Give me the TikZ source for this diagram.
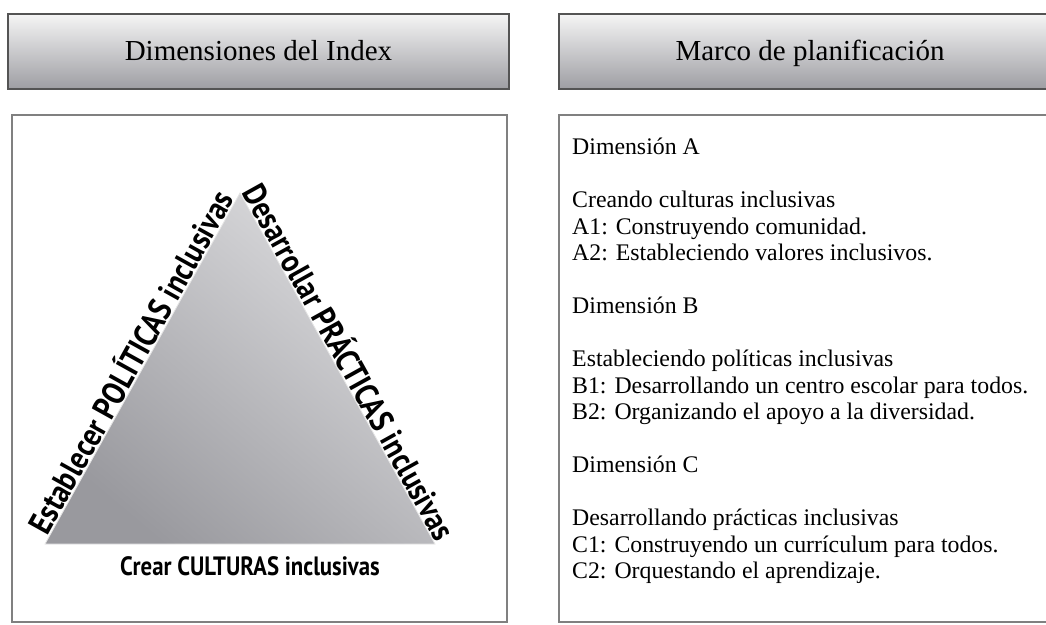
\documentclass[tikz,border=0pt]{standalone}
\usepackage{fontspec}
\setmainfont{Liberation Serif}
\newfontfamily\trifont[FakeStretch=0.86]{PT Sans}
\usetikzlibrary{positioning}
\definecolor{boxline}{rgb}{0.5,0.5,0.5}
\definecolor{headline}{rgb}{0.33,0.33,0.33}
\definecolor{headtop}{rgb}{0.96,0.96,0.96}
\definecolor{headbot}{rgb}{0.62,0.62,0.64}
\definecolor{tridark}{rgb}{0.6,0.6,0.62}
\definecolor{trilight}{rgb}{0.85,0.85,0.86}
\tikzset{
  headbox/.style={draw=headline, line width=1.3pt, top color=headtop, bottom color=headbot,
    minimum width=501pt, minimum height=75pt, inner sep=0pt, text height=21.5pt, text depth=4.5pt,
    font=\fontsize{29}{34}\selectfont},
  framebox/.style={draw=boxline, line width=1.5pt},
  sidelab/.style={font=\trifont\bfseries\fontsize{33}{36}\selectfont, inner sep=1pt},
  baselab/.style={font=\trifont\bfseries\fontsize{26.5}{30}\selectfont, inner sep=0pt}
}
\begin{document}
\begin{tikzpicture}[x=1pt, y=-1pt]
\useasboundingbox (0,0) rectangle (1046,624);

\node[headbox] (hindex) at (258.5,51.5) {Dimensiones del Index};
\node[headbox, minimum width=502pt] (hmarco) at (810,51.5) {Marco de planificación};

\draw[framebox] (12,115) rectangle (507,622);
\draw[framebox] (559,115) rectangle (1061,622);

\coordinate (apex) at (240,193);
\coordinate (bl) at (45,544);
\coordinate (br) at (435,544);
\shade[top color=tridark, middle color=trilight, bottom color=trilight!90!white, shading angle=140]
  (bl) -- (apex) -- (br) -- cycle;
\draw[white!80!gray, line width=0.8pt] (bl) -- (apex) -- (br) -- cycle;

\path (bl) -- (apex) node[sidelab, midway, above, sloped] (lpol) {Establecer POLÍTICAS inclusivas};
\path (apex) -- (br) node[sidelab, midway, above, sloped] (lpra) {Desarrollar PRÁCTICAS inclusivas};
\node[baselab, anchor=base] (lcul) at (250,575) {Crear CULTURAS inclusivas};

\node[anchor=north west, inner sep=0pt, align=left, font=\fontsize{23.8}{26.5}\selectfont] (marco) at (572,138) {%
Dimensión A\\[26.5pt]
Creando culturas inclusivas\\
A1: Construyendo comunidad.\\
A2: Estableciendo valores inclusivos.\\[26.5pt]
Dimensión B\\[26.5pt]
Estableciendo políticas inclusivas\\
B1: Desarrollando un centro escolar para todos.\\
B2: Organizando el apoyo a la diversidad.\\[26.5pt]
Dimensión C\\[26.5pt]
Desarrollando prácticas inclusivas\\
C1: Construyendo un currículum para todos.\\
C2: Orquestando el aprendizaje.};
\end{tikzpicture}
\end{document}
